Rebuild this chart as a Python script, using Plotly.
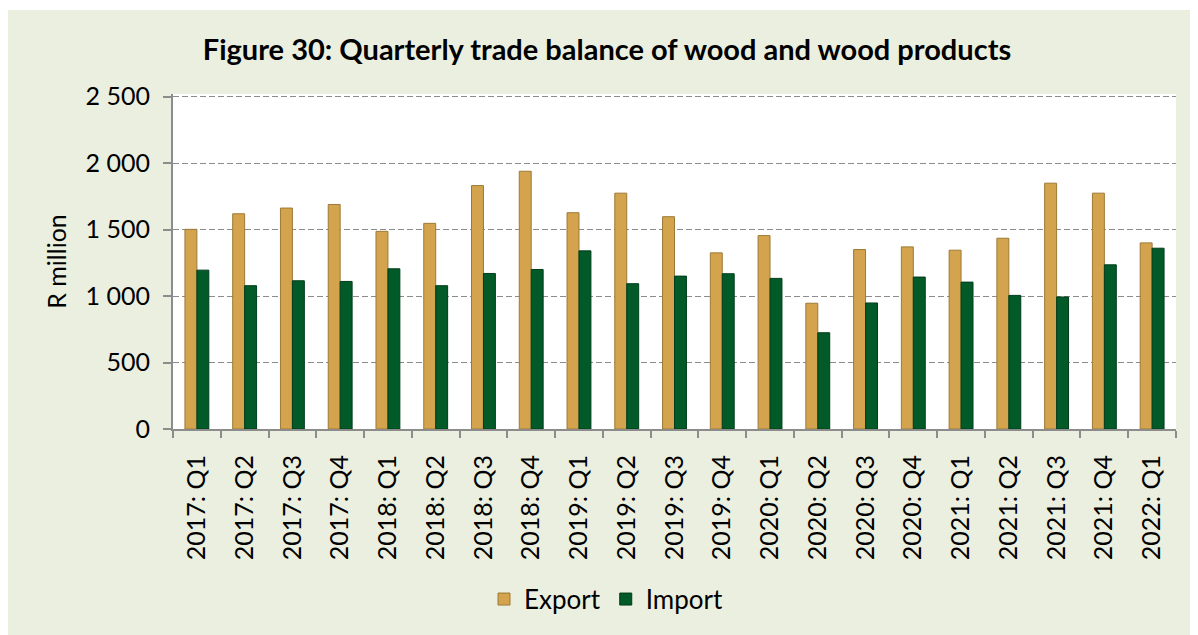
import plotly.graph_objects as go

quarters = ["2017: Q1", "2017: Q2", "2017: Q3", "2017: Q4",
            "2018: Q1", "2018: Q2", "2018: Q3", "2018: Q4",
            "2019: Q1", "2019: Q2", "2019: Q3", "2019: Q4",
            "2020: Q1", "2020: Q2", "2020: Q3", "2020: Q4",
            "2021: Q1", "2021: Q2", "2021: Q3", "2021: Q4",
            "2022: Q1"]
export_vals = [1502, 1619, 1662, 1689, 1487, 1547, 1831, 1939,
               1627, 1774, 1597, 1325, 1455, 946, 1350, 1370,
               1345, 1435, 1849, 1774, 1400]
import_vals = [1195, 1078, 1115, 1110, 1205, 1078, 1170, 1200,
               1340, 1093, 1150, 1168, 1133, 724, 948, 1143,
               1105, 1005, 993, 1235, 1360]
y_ticks = [0, 500, 1000, 1500, 2000, 2500]
Y_MAX = 2520

FONT = "Lato"
OFF = 8  # page body margin
W, H = 1198 - OFF, 635 - OFF
# plot area in screenshot pixels (2500 sits at y=97, 0 at y=431)
unit = (431 - 97) / 2500
SX0, SX1, SY1 = 173, 1176, 431
SY0 = SY1 - Y_MAX * unit
L, R, T, B = SX0 - OFF, W - (SX1 - OFF), SY0 - OFF, H - (SY1 - OFF)
pw, ph = W - L - R, H - T - B

def px(sx):
    return (sx - OFF - L) / pw

def py(sy):
    return (H - B - (sy - OFF)) / ph

fig = go.Figure()
fig.add_trace(go.Bar(x=quarters, y=export_vals, name="Export",
                     marker=dict(color="#D3A34D", line=dict(color="#9C7A36", width=1))))
fig.add_trace(go.Bar(x=quarters, y=import_vals, name="Import",
                     marker=dict(color="#015A27", line=dict(color="#013D1B", width=1))))

shapes = [
    dict(type="rect", xref="paper", yref="paper", layer="below",
         x0=px(0), x1=px(1300), y0=py(8), y1=py(10),
         fillcolor="white", line=dict(width=0)),
]

fig.update_layout(
    width=W, height=H,
    margin=dict(l=L, r=R, t=T, b=B, pad=0),
    paper_bgcolor="#EBEFDF",
    plot_bgcolor="white",
    barmode="group", bargap=0.5, bargroupgap=0,
    separators=". ",
    shapes=shapes,
    font=dict(family=FONT, color="black"),
    title=dict(text="<b>Figure 30: Quarterly trade balance of wood and wood products</b>",
               x=(607 - OFF) / W, xanchor="center", y=1 - (50 - OFF) / H, yanchor="middle",
               font=dict(family=FONT, size=29, color="black")),
    legend=dict(orientation="h", x=px(606), xanchor="center", y=py(602), yanchor="middle",
                font=dict(family=FONT, size=26, color="black"),
                bgcolor="rgba(0,0,0,0)", traceorder="normal"),
    showlegend=True,
)
fig.update_xaxes(
    type="category", showline=True, linecolor="#8C8C8C", linewidth=2,
    ticks="outside", tickson="boundaries", ticklen=7, tickcolor="#8C8C8C", tickwidth=2,
    tickangle=-90, tickfont=dict(family=FONT, size=25, color="black"),
    ticklabelstandoff=14,
    showgrid=False,
)
fig.update_yaxes(
    range=[0, Y_MAX], tickvals=y_ticks, tickformat=",d",
    showline=True, linecolor="#8C8C8C", linewidth=2,
    ticks="outside", ticklen=8, tickcolor="#8C8C8C", tickwidth=2,
    showgrid=True, gridcolor="#8C8C8C", gridwidth=1.3, griddash="6px,3px",
    tickfont=dict(family=FONT, size=25, color="black"),
    ticklabelstandoff=8,
    title=dict(text="R million", font=dict(family=FONT, size=25, color="black"), standoff=12),
    zeroline=False,
)

fig.write_html("out.html")
